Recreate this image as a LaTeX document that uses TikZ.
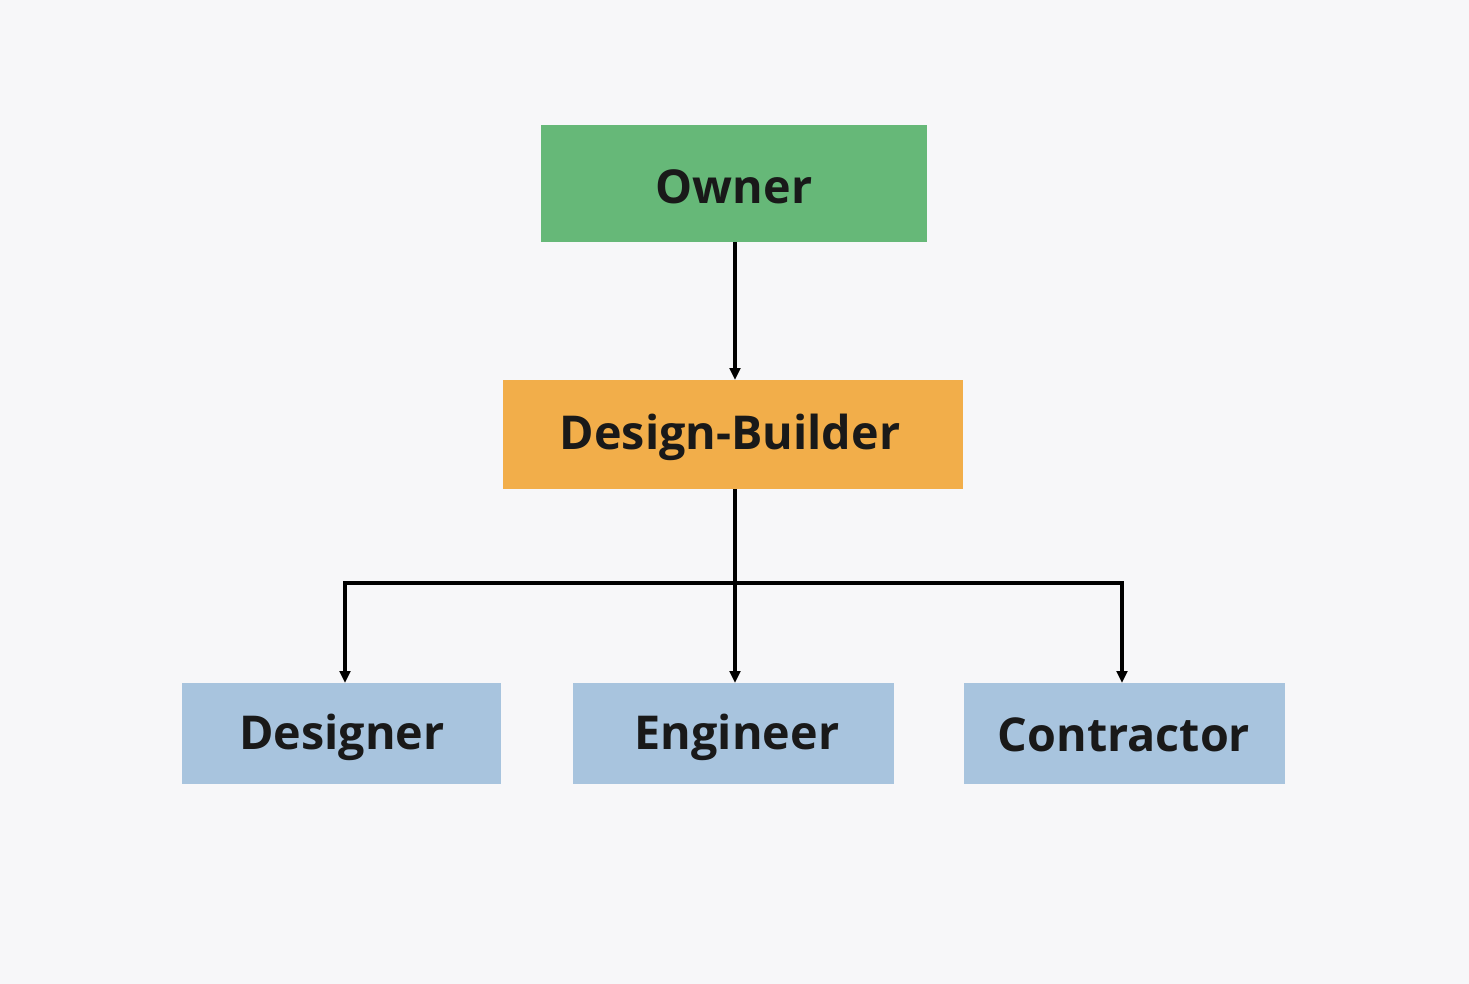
\documentclass[tikz,border=0pt]{standalone}
\usepackage{fontspec}
\setmainfont{Open Sans}
\usetikzlibrary{arrows.meta}
\definecolor{bg}{HTML}{F7F7F9}
\definecolor{cgreen}{HTML}{66B878}
\definecolor{corange}{HTML}{F2AE4A}
\definecolor{cblue}{HTML}{A8C4DE}
\begin{document}
\begin{tikzpicture}[x=0.75pt,y=-0.75pt,
  box/.style={draw=none,inner sep=0pt,font=\fontsize{35}{38}\selectfont\bfseries,text=black!90},
  conn/.style={line width=2.3pt,-{Triangle[length=9pt,width=8pt]}}]
\fill[bg] (0,0) rectangle (1469,984);
\useasboundingbox (0,0) rectangle (1469,984);
\fill[cgreen] (541,125) rectangle (927,242);
\node[box] (owner) at (734,187) {Owner};
\coordinate (ownerb) at (735,242);
\fill[corange] (503,380) rectangle (963,489);
\node[box] (db) at (730,437) {Design-Builder};
\coordinate (dbt) at (735,380);
\coordinate (dbb) at (735,489);
\fill[cblue] (182,683) rectangle (501,784);
\fill[cblue] (573,683) rectangle (894,784);
\fill[cblue] (964,683) rectangle (1285,784);
\node[box] (des) at (342,737) {Designer};
\node[box] (eng) at (737,737) {Engineer};
\node[box] (con) at (1124,735) {Contractor};
\coordinate (j) at (735,583);
\coordinate (jl) at (345,583);
\coordinate (jr) at (1122,583);
\coordinate (desT) at (345,683);
\coordinate (engT) at (735,683);
\coordinate (conT) at (1122,683);
\draw[conn] (ownerb) -- (dbt);
\draw[line width=2.3pt] (dbb) -- (j);
\draw[line width=2.3pt,line cap=rect] (jl) -- (jr);
\draw[conn] (jl) -- (desT);
\draw[conn] (j) -- (engT);
\draw[conn] (jr) -- (conT);
\end{tikzpicture}
\end{document}
